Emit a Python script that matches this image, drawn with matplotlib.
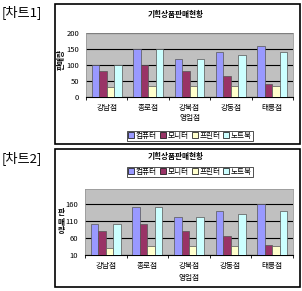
import matplotlib.pyplot as plt
import matplotlib.patches as patches
import numpy as np

plt.rcParams['font.family'] = ['Noto Sans CJK KR', 'DejaVu Sans']

stores = ['강남점', '종로점', '강북점', '강동점', '태릉점']
series_names = ['컴퓨터', '모니터', '프린터', '노트북']
computer = [100, 150, 120, 140, 160]
monitor = [80, 100, 80, 65, 40]
printer = [30, 35, 35, 35, 35]
notebook = [100, 150, 120, 130, 140]
colors = ['#9999FF', '#993366', '#FFFFCC', '#CCFFFF']

W, H = 302, 291
fig = plt.figure(figsize=(W / 100, H / 100), dpi=100)
FS = 5.5


def box(x0, y0, x1, y1):
    # pixel box (top-left origin) -> figure fraction rect
    return [x0 / W, 1 - y1 / H, (x1 - x0) / W, (y1 - y0) / H]


def draw_chart(frame, plot, ylim, yticks, title_y, xlabel_y, ylab_xy, stacked, legend_y):
    fx0, fy0, fx1, fy1 = frame
    fig.patches.append(patches.Rectangle((fx0 / W, 1 - fy1 / H), (fx1 - fx0) / W, (fy1 - fy0) / H,
                                         transform=fig.transFigure, fill=False,
                                         edgecolor='black', linewidth=1.2))
    ax = fig.add_axes(box(*plot))
    ax.set_facecolor('#C0C0C0')
    x = np.arange(len(stores))
    bw = 0.18
    data = [computer, monitor, printer, notebook]
    handles = []
    for i, vals in enumerate(data):
        b = ax.bar(x + (i - 1.5) * bw, np.array(vals) - ylim[0], bw, bottom=ylim[0],
                   color=colors[i], edgecolor='#555555', linewidth=0.5, zorder=3,
                   label=series_names[i])
        handles.append(b)
    ax.set_xlim(-0.5, len(stores) - 0.5)
    ax.set_ylim(*ylim)
    ax.set_yticks(yticks)
    ax.yaxis.grid(True, color='black', linewidth=0.8, zorder=1)
    ax.set_axisbelow(True)
    ax.set_xticks(x)
    ax.set_xticklabels(stores, fontsize=FS)
    ax.set_xticks(np.arange(-0.5, len(stores)), minor=True)
    ax.tick_params(axis='x', which='major', length=0, pad=5)
    ax.tick_params(axis='x', which='minor', length=2, color='black')
    ax.tick_params(axis='y', length=0, labelsize=FS, pad=5)
    for s in ['top', 'right', 'left']:
        ax.spines[s].set_color('#999999')
        ax.spines[s].set_linewidth(0.6)
    ax.spines['bottom'].set_color('black')

    fig.text(176 / W, 1 - title_y / H, '기획상품판매현황', fontsize=FS,
             fontweight='bold', ha='center', va='center')
    fig.text((plot[0] + plot[2]) / 2 / W, 1 - xlabel_y / H, '영업점', fontsize=FS,
             ha='center', va='center')
    if stacked:
        fig.text(ylab_xy[0] / W, 1 - ylab_xy[1] / H, '판\n매\n량', fontsize=FS, fontweight='bold',
                 ha='center', va='center', linespacing=1.0)
    else:
        fig.text(ylab_xy[0] / W, 1 - ylab_xy[1] / H, '판매량', fontsize=FS, fontweight='bold',
                 ha='center', va='center', rotation=90)

    leg = fig.legend(handles=handles, loc='center', bbox_to_anchor=(190 / W, 1 - legend_y / H),
                     ncol=4, fontsize=FS, frameon=True, fancybox=False, handlelength=0.8,
                     handleheight=0.8, handletextpad=0.2, columnspacing=0.4,
                     borderpad=0.15, borderaxespad=0)
    leg.get_frame().set_edgecolor('black')
    leg.get_frame().set_linewidth(0.6)
    for h in leg.legend_handles:
        h.set_edgecolor('black')
    return ax


draw_chart(frame=(55, 4, 300, 144), plot=(86, 33, 293, 97), ylim=(0, 200),
           yticks=[0, 50, 100, 150, 200], title_y=14, xlabel_y=118, ylab_xy=(61, 60),
           stacked=False, legend_y=136)
draw_chart(frame=(55, 149, 300, 287), plot=(85, 189, 293, 255), ylim=(10, 203),
           yticks=[10, 60, 110, 160], title_y=157, xlabel_y=278, ylab_xy=(61, 222),
           stacked=True, legend_y=172)

fig.text(2 / W, 1 - 12 / H, '[차트1]', fontsize=9.5, ha='left', va='center')
fig.text(2 / W, 1 - 158 / H, '[차트2]', fontsize=9.5, ha='left', va='center')

fig.savefig('out.png', dpi=100)
